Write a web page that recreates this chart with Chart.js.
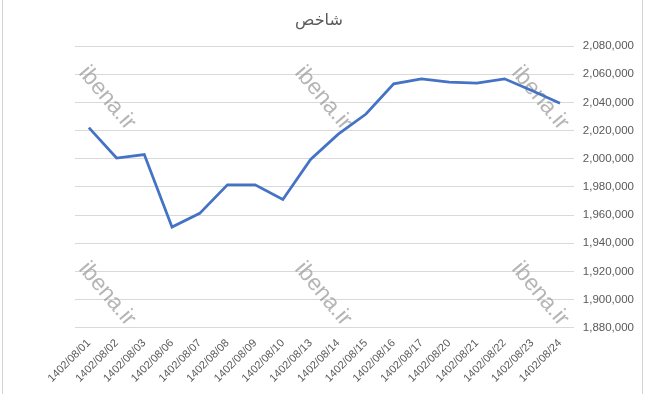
<!DOCTYPE html>
<html>
<head>
<meta charset="utf-8">
<script src="https://cdn.jsdelivr.net/npm/chart.js@4"></script>
<style>
  html, body { margin: 0; padding: 0; background: #fff; }
  .wrap { position: relative; width: 648px; height: 394px; }
  .edge { position: absolute; top: 0; bottom: 0; width: 1px; background: #d4d4d4; }
</style>
</head>
<body>
<div class="wrap">
  <canvas id="chart" width="648" height="394"></canvas>
  <div class="edge" style="left:2px"></div>
  <div class="edge" style="left:642px"></div>
</div>
<script>
const labels = ['1402/08/01', '1402/08/02', '1402/08/03', '1402/08/06', '1402/08/07', '1402/08/08',
  '1402/08/09', '1402/08/10', '1402/08/13', '1402/08/14', '1402/08/15', '1402/08/16',
  '1402/08/17', '1402/08/20', '1402/08/21', '1402/08/22', '1402/08/23', '1402/08/24']
const values = [2022100, 2000500, 2002900, 1951500, 1961200, 1981400,
  1981400, 1971000, 1999500, 2017400, 2031700, 2053100,
  2056700, 2054300, 2053600, 2056700, 2048300, 2039300]
const yMin = 1880000
const yMax = 2080000
const yStep = 20000
const title = 'شاخص'
const watermark = 'ibena.ir'

const font = '"Liberation Sans", "DejaVu Sans", sans-serif'

// title sits in the middle of the whole picture, not over the plot area
const titlePlugin = {
  id: 'centerTitle',
  afterDraw(chart) {
    const ctx = chart.ctx
    ctx.save()
    ctx.fillStyle = '#595959'
    ctx.font = '16px ' + font
    ctx.textAlign = 'center'
    ctx.textBaseline = 'middle'
    ctx.fillText(title, 319, 21)
    ctx.restore()
  }
}

// the ibena.ir stamps, three across and two down
const watermarkPlugin = {
  id: 'watermark',
  beforeDatasetsDraw(chart) {
    const ctx = chart.ctx
    const spots = [[107, 98], [323, 98], [540, 98], [107, 294], [323, 294], [540, 294]]
    ctx.save()
    ctx.fillStyle = 'rgba(150,150,150,0.7)'
    ctx.font = '23px ' + font
    ctx.textAlign = 'center'
    ctx.textBaseline = 'middle'
    spots.forEach(s => {
      ctx.save()
      ctx.translate(s[0], s[1])
      ctx.rotate(50 * Math.PI / 180)
      ctx.fillText(watermark, 0, 0)
      ctx.restore()
    })
    ctx.restore()
  }
}

new Chart(document.getElementById('chart'), {
  type: 'line',
  data: {
    labels: labels,
    datasets: [{
      data: values,
      borderColor: '#4472C4',
      borderWidth: 2.75,
      pointRadius: 0,
      tension: 0,
      fill: false
    }]
  },
  options: {
    responsive: false,
    animation: false,
    layout: { padding: { left: 75, right: 5, top: 46, bottom: 8 } },
    plugins: {
      legend: { display: false },
      tooltip: { enabled: false },
      title: { display: false }
    },
    scales: {
      x: {
        offset: true,
        grid: { display: false },
        border: { display: false },
        ticks: {
          color: '#595959',
          font: { family: font, size: 11 },
          maxRotation: 45,
          minRotation: 45,
          autoSkip: false,
          padding: 1
        }
      },
      y: {
        position: 'right',
        min: yMin,
        max: yMax,
        grid: { color: '#d9d9d9', lineWidth: 1, drawTicks: false },
        border: { display: false },
        ticks: {
          stepSize: yStep,
          color: '#595959',
          font: { family: font, size: 11.5 },
          padding: 9,
          callback: v => v.toLocaleString('en-US')
        }
      }
    }
  },
  plugins: [watermarkPlugin, titlePlugin]
})
</script>
</body>
</html>
